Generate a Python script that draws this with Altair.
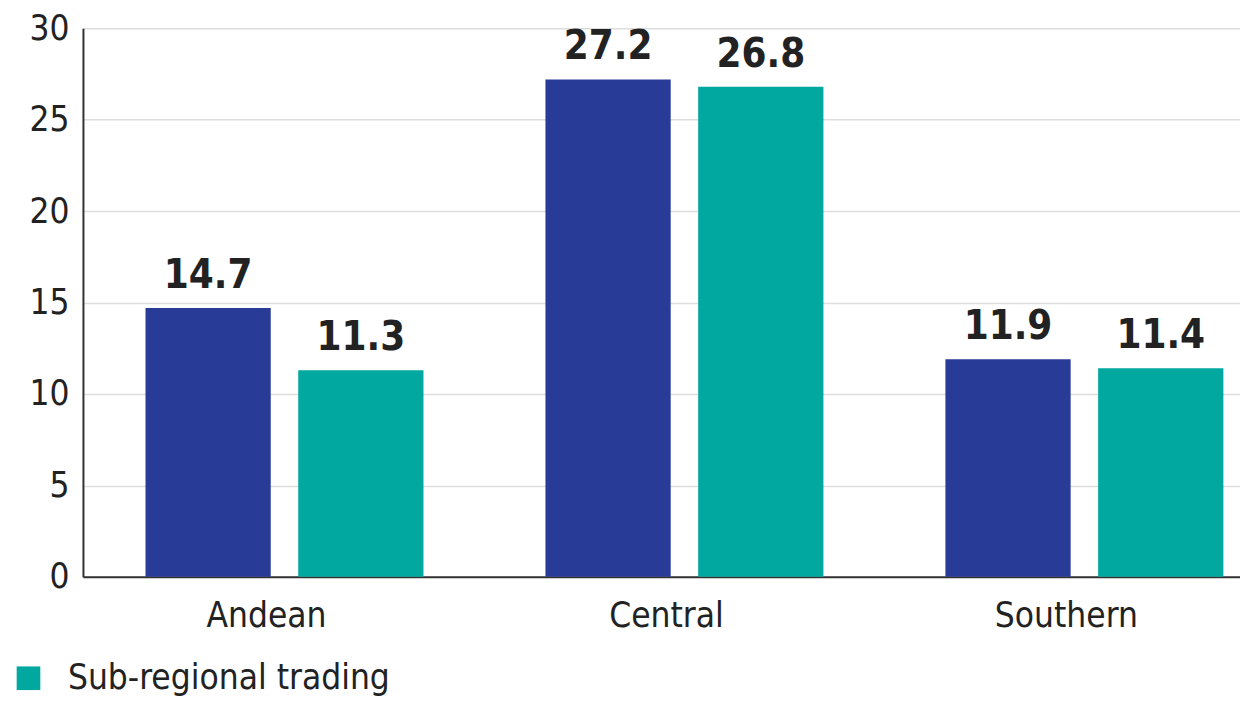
import altair as alt
import pandas as pd

regions = ["Andean", "Central", "Southern"]
series = ["Intra-regional trading", "Sub-regional trading"]
intra_values = [14.7, 27.2, 11.9]
sub_values = [11.3, 26.8, 11.4]
y_ticks = [0, 5, 10, 15, 20, 25, 30]
colors = ["#283B96", "#00A8A0"]

rows = []
for r, a, b in zip(regions, intra_values, sub_values):
    rows.append({"region": r, "series": series[0], "value": a})
    rows.append({"region": r, "series": series[1], "value": b})
df = pd.DataFrame(rows)

FONT = "'DejaVu Sans Condensed', 'Roboto', sans-serif"

x = alt.X("region:N", sort=regions, title=None,
          scale=alt.Scale(paddingInner=0.305, paddingOuter=0.099, align=0.79),
          axis=alt.Axis(labelAngle=0, labelFontSize=35, labelFont=FONT, labelColor="#222222",
                        labelPadding=22, labelOffset=-18, ticks=False, domainColor="#333333",
                        domainWidth=2))
xo = alt.XOffset("series:N", sort=series, scale=alt.Scale(paddingInner=0.18, paddingOuter=0))
y = alt.Y("value:Q", title=None,
          scale=alt.Scale(domain=[0, 30], nice=False),
          axis=alt.Axis(values=y_ticks, labelFontSize=35, labelFont=FONT, labelColor="#222222",
                        labelPadding=14, ticks=False, domainColor="#333333", domainWidth=2,
                        gridColor="#dddddd", gridWidth=1.5))

color = alt.Color("series:N", sort=series,
                  scale=alt.Scale(domain=series, range=colors),
                  legend=alt.Legend(values=["Sub-regional trading"], title=None, orient="none",
                                    legendX=-72, legendY=633, symbolType="square",
                                    symbolSize=560, symbolStrokeWidth=0, labelFontSize=35,
                                    labelFont=FONT, labelColor="#222222", labelOffset=22,
                                    labelLimit=600))

bars = alt.Chart(df).mark_bar().encode(x=x, xOffset=xo, y=y, color=color)
labels = alt.Chart(df).mark_text(baseline="bottom", dy=-12, fontSize=40, fontWeight="bold",
                                 font=FONT, color="#222222").encode(
    x=alt.X("region:N", sort=regions), xOffset=xo, y=alt.Y("value:Q"),
    text=alt.Text("value:Q", format=".1f"))

chart = (bars + labels).properties(width=1158, height=549, padding={"left": 3, "top": 3, "right": 0, "bottom": 0}).configure_view(stroke=None)

chart.save("out.html", embed_options={"renderer": "svg", "actions": False})
